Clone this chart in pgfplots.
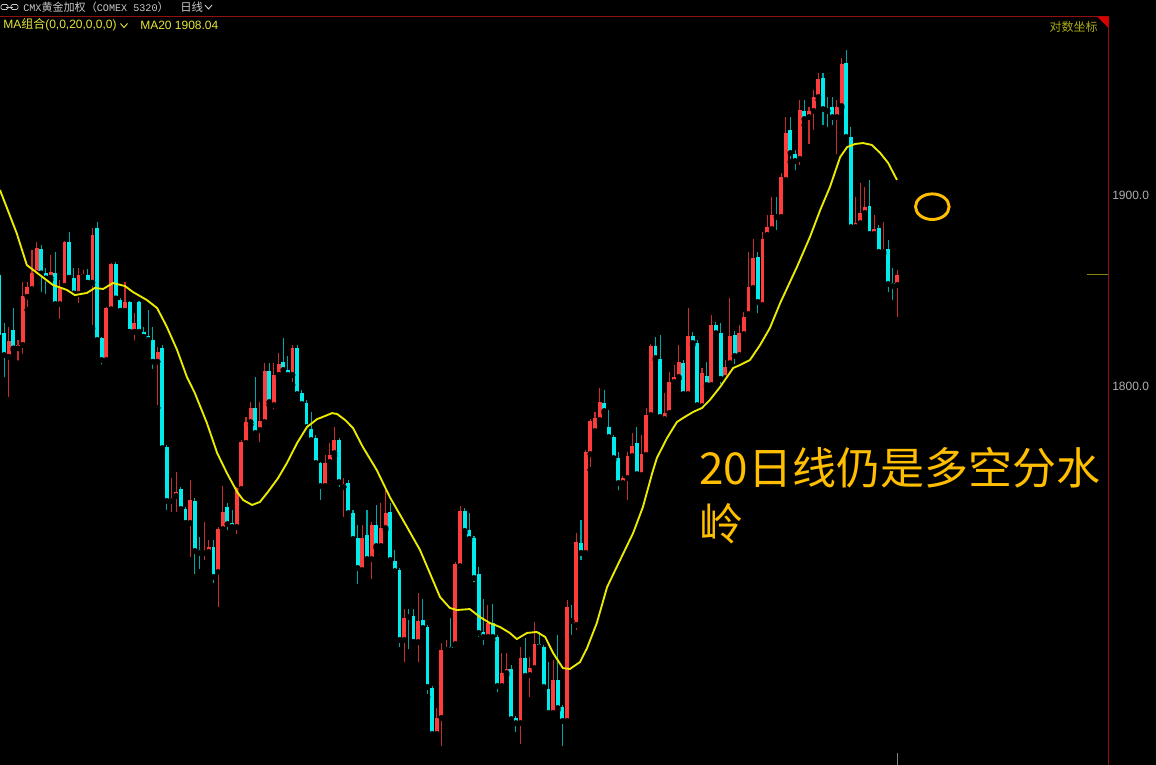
\documentclass[border=0pt]{standalone}
\usepackage{pgfplots}
\usepackage{pgfplotstable}
\pgfplotsset{compat=1.18}
\usepackage{fontspec}
\setmainfont{Liberation Sans}
\setmonofont{Liberation Mono}
\newfontfamily\cjk{Noto Sans CJK SC}
\definecolor{upred}{RGB}{255,60,60}
\definecolor{upwick}{RGB}{200,45,45}
\definecolor{dncyan}{RGB}{0,235,235}
\definecolor{dnwick}{RGB}{0,165,165}
\definecolor{maline}{RGB}{235,235,0}
\definecolor{axred}{RGB}{150,15,15}
\definecolor{anno}{RGB}{255,190,0}
\definecolor{hdrgray}{RGB}{200,200,200}
\definecolor{hdryel}{RGB}{230,230,60}
\definecolor{oliv}{RGB}{170,170,20}
\definecolor{ticklbl}{RGB}{175,175,175}

% i open high low close  (up candles, close > open)
\pgfplotstableread{
i o h l c
2 1815.3 1831.0 1792.7 1823.5
4 1819.7 1824.1 1811.9 1821.5
5 1821.5 1854.6 1815.3 1847.1
6 1846.7 1854.6 1839.8 1851.7
7 1850.8 1871.2 1850.3 1859.0
8 1859.0 1875.5 1858.1 1872.4
11 1856.7 1868.6 1855.5 1859.8
13 1842.9 1855.5 1833.7 1852.0
14 1852.4 1875.8 1852.0 1875.2
17 1848.2 1861.6 1841.9 1858.1
18 1857.2 1860.7 1855.5 1858.6
20 1854.1 1882.6 1830.2 1879.1
23 1813.6 1841.5 1812.7 1840.7
24 1840.2 1864.2 1839.8 1863.7
27 1839.4 1854.6 1838.9 1844.1
29 1828.4 1838.1 1822.3 1832.8
34 1812.7 1820.6 1788.5 1817.6
37 1739.8 1751.8 1732.4 1741.4
38 1742.4 1755.0 1732.4 1744.5
41 1728.3 1750.8 1708.9 1740.3
44 1712.4 1728.8 1707.3 1713.3
45 1713.1 1719.4 1711.5 1715.7
47 1702.6 1726.2 1682.7 1725.1
48 1725.1 1747.6 1723.5 1734.0
51 1726.2 1747.1 1720.9 1746.6
52 1746.1 1771.7 1745.0 1770.7
53 1770.2 1783.8 1767.5 1781.1
54 1781.1 1791.6 1779.6 1788.5
56 1777.0 1791.6 1769.1 1781.7
57 1781.1 1812.0 1780.1 1807.8
59 1790.0 1812.0 1786.4 1805.8
60 1805.8 1817.3 1804.7 1811.5
63 1805.8 1821.5 1800.5 1819.9
70 1747.6 1763.9 1745.5 1759.7
71 1760.2 1770.2 1758.6 1763.9
72 1764.9 1778.5 1763.3 1771.7
74 1747.1 1751.8 1729.8 1748.7
78 1703.6 1727.2 1702.1 1720.4
80 1709.4 1728.8 1697.4 1727.2
82 1716.2 1738.7 1714.6 1725.6
83 1725.6 1745.5 1724.6 1733.5
87 1667.0 1683.2 1653.9 1678.5
90 1666.0 1691.6 1653.9 1676.9
94 1617.8 1631.4 1616.7 1626.2
95 1626.2 1665.4 1609.9 1661.8
96 1661.8 1667.0 1660.7 1662.8
98 1664.9 1707.8 1663.9 1706.8
99 1705.7 1737.2 1704.7 1734.5
105 1668.6 1685.3 1667.5 1675.9
108 1642.9 1660.2 1641.9 1649.7
109 1649.7 1660.2 1648.7 1651.8
112 1623.5 1663.3 1611.0 1657.6
114 1648.7 1658.1 1635.6 1652.3
115 1652.3 1676.4 1651.3 1664.9
119 1628.8 1656.5 1627.2 1646.1
122 1624.6 1687.9 1623.0 1684.3
124 1674.9 1723.0 1670.7 1718.3
126 1712.6 1766.5 1711.0 1765.4
127 1764.4 1782.7 1756.0 1781.7
128 1776.4 1786.4 1775.4 1783.2
129 1782.2 1798.9 1781.1 1791.6
134 1749.2 1752.9 1748.2 1751.8
135 1751.8 1765.4 1738.7 1763.3
136 1763.3 1775.4 1762.3 1768.6
138 1753.4 1774.3 1751.8 1764.4
139 1763.9 1788.5 1762.8 1784.8
140 1784.8 1822.0 1783.8 1820.9
143 1782.7 1796.3 1781.7 1785.9
144 1785.9 1807.3 1784.8 1802.1
145 1802.1 1811.0 1801.0 1804.7
146 1804.7 1821.5 1803.7 1812.6
148 1795.8 1840.8 1794.8 1826.2
151 1789.5 1809.4 1788.5 1806.8
153 1800.5 1837.2 1799.5 1831.9
156 1804.2 1813.6 1803.1 1809.9
157 1812.0 1846.1 1811.0 1826.2
159 1816.2 1831.9 1815.2 1827.7
160 1827.2 1838.7 1826.2 1836.1
161 1837.7 1870.2 1836.6 1851.8
162 1851.3 1877.0 1850.3 1867.0
164 1842.4 1880.6 1841.4 1877.0
165 1879.1 1889.5 1878.0 1883.2
166 1882.2 1899.0 1881.2 1889.5
168 1888.5 1911.5 1886.9 1909.4
169 1907.9 1940.8 1906.3 1932.5
172 1918.9 1949.7 1914.1 1944.5
174 1940.8 1946.1 1925.1 1944.0
175 1944.0 1955.0 1932.5 1951.3
176 1951.3 1963.9 1949.7 1960.7
180 1940.8 1949.7 1919.9 1946.1
181 1946.6 1971.7 1945.6 1968.6
184 1883.2 1899.0 1881.7 1885.3
185 1885.3 1906.3 1883.8 1890.6
186 1890.6 1904.2 1889.5 1893.7
188 1879.6 1889.5 1878.5 1882.2
190 1870.2 1885.9 1869.1 1871.7
193 1852.9 1860.7 1834.6 1858.1
}\uptab

% down candles, close < open
\pgfplotstableread{
i o h l c
0 1858.1 1864.2 1824.1 1826.7
1 1827.6 1832.8 1803.1 1816.2
3 1829.3 1840.7 1818.8 1819.7
9 1871.7 1874.0 1847.6 1859.0
10 1859.3 1861.6 1846.7 1856.4
12 1859.0 1870.3 1842.4 1842.9
15 1875.5 1880.8 1856.4 1856.7
16 1856.7 1861.6 1847.6 1848.5
19 1858.1 1861.1 1853.8 1854.1
21 1882.6 1886.0 1823.7 1824.1
22 1825.0 1825.8 1809.8 1813.6
25 1863.7 1865.1 1845.5 1845.9
26 1845.0 1845.9 1838.9 1839.4
28 1844.1 1844.7 1827.9 1828.4
30 1844.1 1844.7 1827.6 1828.4
31 1828.4 1831.0 1825.0 1825.8
32 1826.3 1839.8 1823.2 1824.1
33 1824.1 1831.0 1807.5 1812.7
35 1819.9 1821.5 1766.5 1767.5
36 1768.1 1769.1 1733.5 1739.8
39 1746.1 1747.1 1734.0 1735.6
40 1735.6 1736.6 1725.1 1728.3
42 1739.8 1741.4 1700.0 1713.6
43 1714.1 1720.9 1702.6 1712.6
46 1715.7 1719.4 1695.3 1700.0
49 1736.6 1738.7 1723.0 1727.7
50 1728.3 1735.1 1723.0 1726.2
55 1788.5 1804.7 1774.3 1775.4
58 1807.8 1812.0 1790.0 1791.6
61 1812.6 1825.1 1806.8 1808.4
62 1808.4 1815.7 1804.2 1805.8
64 1819.9 1821.5 1794.8 1795.8
65 1796.3 1797.9 1788.5 1790.6
66 1791.1 1792.7 1777.0 1778.5
67 1777.5 1786.4 1770.7 1771.7
68 1772.8 1774.3 1758.6 1759.7
69 1759.7 1760.2 1738.7 1747.6
73 1771.7 1772.8 1745.5 1749.7
75 1749.2 1750.8 1731.9 1733.5
76 1733.5 1735.1 1718.3 1719.9
77 1720.4 1727.2 1694.7 1704.7
79 1722.0 1735.1 1708.4 1709.4
81 1727.2 1737.7 1715.2 1716.2
84 1734.0 1738.7 1707.8 1708.9
85 1708.4 1714.1 1702.1 1703.1
86 1703.6 1704.7 1661.8 1667.0
88 1679.6 1683.2 1660.7 1679.0
89 1679.6 1683.2 1664.4 1666.0
91 1677.5 1688.5 1671.7 1673.3
92 1673.8 1674.9 1637.2 1642.4
93 1641.9 1642.9 1615.7 1617.8
97 1663.3 1678.5 1660.7 1661.8
100 1734.5 1736.1 1723.0 1724.1
101 1724.6 1733.5 1718.8 1719.9
102 1720.4 1721.5 1695.8 1699.5
103 1701.6 1705.2 1667.0 1670.7
104 1671.2 1688.5 1662.8 1668.6
106 1675.9 1685.9 1667.0 1668.6
107 1668.6 1669.6 1638.2 1642.9
110 1651.8 1653.9 1624.6 1625.6
111 1626.2 1627.2 1617.3 1623.5
113 1657.6 1668.0 1647.1 1648.2
116 1664.9 1671.2 1662.3 1663.3
117 1663.3 1664.4 1640.8 1642.4
118 1641.3 1655.5 1627.7 1628.8
120 1646.1 1669.6 1630.3 1631.4
121 1631.9 1633.0 1609.9 1624.6
123 1678.0 1685.3 1668.0 1676.9
125 1717.8 1729.8 1707.3 1712.6
130 1791.1 1797.9 1785.9 1786.9
131 1778.5 1787.4 1772.2 1773.3
132 1773.3 1774.3 1761.2 1762.3
133 1762.3 1765.4 1744.0 1749.2
137 1770.2 1778.5 1752.3 1753.9
141 1820.9 1825.6 1813.6 1814.6
142 1814.1 1826.7 1781.1 1783.8
147 1812.0 1813.6 1792.7 1795.8
149 1826.2 1828.3 1821.5 1822.5
150 1822.5 1824.1 1789.0 1790.0
152 1805.2 1812.6 1799.5 1800.5
154 1831.9 1833.5 1826.7 1827.7
155 1827.7 1833.0 1799.5 1803.7
158 1826.7 1828.8 1809.9 1815.7
163 1867.5 1870.2 1836.6 1844.0
167 1889.5 1899.0 1880.1 1888.5
170 1934.0 1940.8 1917.3 1922.0
171 1921.5 1923.6 1911.5 1917.8
173 1944.0 1949.7 1936.6 1939.8
177 1961.3 1963.9 1935.1 1945.0
178 1945.0 1951.3 1934.0 1944.0
179 1946.1 1951.3 1935.1 1940.8
182 1969.1 1975.9 1929.8 1930.4
183 1930.4 1935.6 1880.1 1883.2
187 1894.2 1907.9 1876.4 1879.6
189 1882.7 1884.3 1867.5 1870.2
191 1871.7 1876.4 1847.6 1853.4
192 1853.9 1861.8 1843.5 1852.4
}\dntab

\pgfplotsset{
  chartframe/.style={
    at={(0bp,-12bp)}, anchor=north west,
    width=831bp, height=561.75bp, scale only axis,
    xmin=0.129, xmax=238.26, ymin=1601.55, ymax=1993.72,
    clip=true,
  },
}

\begin{document}
\begin{tikzpicture}
\fill[black] (0,0) rectangle (867bp,-573.75bp);
\useasboundingbox (0,0) rectangle (867bp,-573.75bp);

\begin{axis}[
  chartframe,
  axis line style={draw=none},
  xtick=\empty,
  ytick={1800,1900}, yticklabels={1800.0,1900.0},
  yticklabel pos=right,
  major tick length=0pt, tick style={draw=none},
  yticklabel style={anchor=west, inner sep=0pt, xshift=3bp, text=ticklbl,
    font=\fontsize{9bp}{10bp}\selectfont},
]
% wicks
\addplot[only marks, mark=none, error bars/.cd, y dir=plus, y explicit,
  error mark=none, error bar style={draw=upwick, line width=0.8bp}]
  table[x=i, y=l, y error plus expr=\thisrow{h}-\thisrow{l}] {\uptab};
\addplot[only marks, mark=none, error bars/.cd, y dir=plus, y explicit,
  error mark=none, error bar style={draw=dnwick, line width=0.8bp}]
  table[x=i, y=l, y error plus expr=\thisrow{h}-\thisrow{l}] {\dntab};
% bodies
\addplot[only marks, mark=none, error bars/.cd, y dir=plus, y explicit,
  error mark=none, error bar style={draw=upred, line width=2.9bp}]
  table[x=i, y=o, y error plus expr=\thisrow{c}-\thisrow{o}] {\uptab};
\addplot[only marks, mark=none, error bars/.cd, y dir=plus, y explicit,
  error mark=none, error bar style={draw=dncyan, line width=2.9bp}]
  table[x=i, y=c, y error plus expr=\thisrow{o}-\thisrow{c}] {\dntab};
\end{axis}

% MA20 on top of the candles
\begin{axis}[chartframe, hide axis]
\addplot[maline, line width=1.4bp, line join=round, mark=none] coordinates {
(0.13,1902.6) (3.7,1880.1) (5.9,1863.3) (8.7,1858.1) (11.5,1852.9) (14.5,1850.3)
(16.2,1847.6) (18.8,1848.7) (20.5,1851.3) (22.3,1850.8) (24.4,1853.9) (27.0,1852.3)
(28.7,1849.2) (31.7,1845.0) (33.9,1840.8) (36.0,1830.9) (38.2,1818.8) (40.3,1804.7)
(42.0,1796.3) (44.6,1780.6) (46.8,1764.9) (48.9,1754.4) (51.1,1744.5) (52.4,1740.3)
(54.3,1737.7) (56.0,1739.3) (57.7,1744.5) (59.9,1751.8) (61.8,1759.7) (64.0,1770.2)
(66.1,1778.5) (68.3,1782.7) (69.5,1783.8) (71.5,1785.8) (72.6,1785.3) (74.3,1782.2)
(76.0,1778.0) (78.1,1768.1) (81.1,1756.0) (83.9,1741.9) (87.6,1726.2) (90.4,1714.1)
(92.5,1702.1) (94.7,1689.5) (96.8,1683.8) (98.3,1682.7) (101.1,1683.2) (103.3,1679.0)
(105.4,1675.9) (107.6,1673.8) (109.7,1670.7) (111.2,1667.5) (113.4,1670.7) (115.5,1671.2)
(117.3,1668.6) (119.0,1660.2) (121.1,1652.3) (122.6,1651.8) (124.8,1655.5) (126.3,1662.8)
(128.4,1675.9) (130.6,1694.7) (133.4,1708.9) (136.2,1723.0) (138.3,1736.6) (140.3,1754.4)
(141.3,1762.3) (143.5,1772.8) (145.6,1781.1) (146.9,1783.2) (149.1,1786.4) (151.0,1788.5)
(152.7,1792.7) (154.9,1799.5) (157.7,1809.4) (159.2,1811.0) (161.3,1813.6) (163.5,1821.5)
(165.6,1830.4) (167.8,1843.4) (171.4,1862.3) (174.2,1878.0) (176.4,1892.1) (178.5,1904.2)
(180.7,1919.9) (182.2,1925.1) (183.9,1926.7) (185.6,1927.2) (187.5,1926.2) (189.3,1922.0)
(191.0,1916.8) (192.9,1907.9)
};
\end{axis}

\begin{scope}[x=0.75bp, y=-0.75bp]
% frame lines
\draw[axred, line width=0.75bp] (0,16.5) -- (1108.5,16.5);
\draw[axred, line width=0.75bp] (1108.5,16.5) -- (1108.5,765);
\fill[red!85!black] (1097,16.5) -- (1108.5,16.5) -- (1108.5,28) -- cycle;
% last price marker
\draw[oliv!80!black, line width=0.75bp] (1087,274) -- (1108,274);
% bottom cursor mark
\draw[gray, line width=0.75bp] (897.3,753) -- (897.3,765);
% header line 1
\draw[hdrgray, line width=0.6bp, rounded corners=1bp] (1,4.5) rectangle (8,9.5);
\draw[hdrgray, line width=0.6bp, rounded corners=1bp] (11,4.5) rectangle (18,9.5);
\draw[hdrgray, line width=0.6bp] (6,7) -- (13,7);
\node[anchor=west, inner sep=0pt, text=hdrgray] at (23,7.5)
  {{\ttfamily\fontsize{7.6bp}{8bp}\selectfont CMX}{\cjk\fontsize{8.3bp}{9bp}\selectfont 黄金加权（}{\ttfamily\fontsize{7.6bp}{8bp}\selectfont COMEX 5320}{\cjk\fontsize{8.3bp}{9bp}\selectfont ）}};
\node[anchor=west, inner sep=0pt, text=hdrgray, font=\cjk\fontsize{8.5bp}{9bp}\selectfont] at (180,7.5) {日线};
\draw[hdrgray, line width=0.7bp] (205,5) -- (208.5,9) -- (212,5);
% header line 2
\node[anchor=west, inner sep=0pt, text=hdryel, font=\fontsize{9bp}{10bp}\selectfont] at (3,25)
  {MA{\cjk 组合}(0,0,20,0,0,0)};
\draw[hdryel, line width=0.7bp] (120.5,23.5) -- (124,27.5) -- (127.5,23.5);
\node[anchor=west, inner sep=0pt, text=hdryel, font=\fontsize{9bp}{10bp}\selectfont] at (140,25)
  {MA20 1908.04};
\node[anchor=east, inner sep=0pt, text=oliv, font=\cjk\fontsize{9bp}{10bp}\selectfont] at (1098,26.5)
  {对数坐标};
% annotation
\node[anchor=base west, inner sep=0pt, text=anno, font=\cjk\fontsize{33bp}{33bp}\selectfont] at (699,484)
  {20日线仍是多空分水};
\node[anchor=base west, inner sep=0pt, text=anno, font=\cjk\fontsize{33bp}{33bp}\selectfont] at (699,540)
  {岭};
\draw[anno, line width=2.2bp] (932.3,206.7) ellipse [x radius=12.6bp, y radius=9.6bp];
\end{scope}
\end{tikzpicture}
\end{document}
